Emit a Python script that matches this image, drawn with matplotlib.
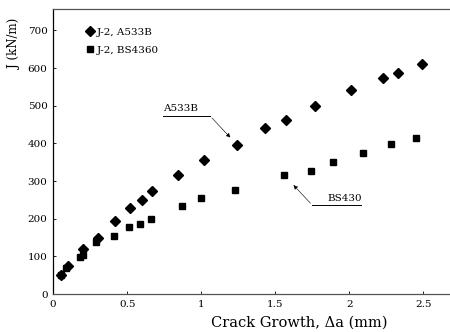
import matplotlib
matplotlib.use("Agg")
import matplotlib.pyplot as plt

# J-R curve data, crack growth in mm, J in kN/m
a533b_da = [0.05, 0.10, 0.20, 0.30, 0.42, 0.52, 0.60, 0.67, 0.84, 1.02,
            1.24, 1.43, 1.57, 1.77, 2.01, 2.23, 2.33, 2.49]
a533b_j = [52, 74, 119, 149, 194, 228, 249, 273, 315, 355,
           395, 440, 461, 499, 541, 573, 586, 610]

bs4360_da = [0.05, 0.09, 0.18, 0.20, 0.29, 0.41, 0.51, 0.59, 0.66, 0.87,
             1.00, 1.23, 1.56, 1.74, 1.89, 2.09, 2.28, 2.45]
bs4360_j = [50, 69, 98, 103, 138, 154, 178, 186, 199, 234,
            255, 276, 316, 326, 350, 374, 398, 414]

xticks = [0, 0.5, 1, 1.5, 2, 2.5]
xtick_labels = ["0", "0.5", "1", "1.5", "2", "2.5"]
yticks = [0, 100, 200, 300, 400, 500, 600, 700]

plt.rcParams["font.family"] = ["DejaVu Serif"]

fig = plt.figure(figsize=(4.5, 3.32), dpi=100)
ax = fig.add_axes([0.118, 0.114, 0.882, 0.858])

ax.plot(a533b_da, a533b_j, linestyle="none", marker="D", markersize=4.8,
        color="black", label="J-2, A533B")
ax.plot(bs4360_da, bs4360_j, linestyle="none", marker="s", markersize=4.0,
        color="black", label="J-2, BS4360")

ax.set_xlim(0, 2.68)
ax.set_ylim(0, 756)
ax.set_xticks(xticks)
ax.set_xticklabels(xtick_labels)
ax.set_yticks(yticks)
ax.tick_params(direction="in", length=2, width=0.6, labelsize=7.5, pad=4)

ax.spines["right"].set_visible(False)
for side in ["top", "bottom"]:
    ax.spines[side].set_color("#555555")
    ax.spines[side].set_linewidth(0.9)
ax.spines["left"].set_linewidth(0.9)

ax.set_xlabel("Crack Growth, \u0394a (mm)", fontsize=10.5)
ax.xaxis.set_label_coords(0.62, -0.075)
ax.set_ylabel("J (kN/m)", fontsize=8.5)
ax.yaxis.set_label_coords(-0.08, 0.88)

leg = ax.legend(loc="upper left", bbox_to_anchor=(0.07, 0.95), frameon=False,
                fontsize=7.5, handletextpad=0.1, handlelength=1.0,
                labelspacing=0.8, borderaxespad=0)

# leader line for the A533B label
ax.plot([0.74, 1.06], [473, 473], color="black", lw=0.7)
ax.annotate("", xy=(1.21, 410), xytext=(1.06, 473),
            arrowprops=dict(arrowstyle="-|>", lw=0.5, ls=(0, (1, 1)),
                            color="black", mutation_scale=6))
ax.text(0.74, 480, "A533B", fontsize=7.5, ha="left", va="bottom")

# leader line for the BS430 label
ax.plot([1.75, 2.08], [236, 236], color="black", lw=0.7)
ax.annotate("", xy=(1.61, 295), xytext=(1.75, 236),
            arrowprops=dict(arrowstyle="-|>", lw=0.5, ls=(0, (1, 1)),
                            color="black", mutation_scale=6))
ax.text(1.85, 243, "BS430", fontsize=7.5, ha="left", va="bottom")

fig.savefig("out.png", dpi=100)
